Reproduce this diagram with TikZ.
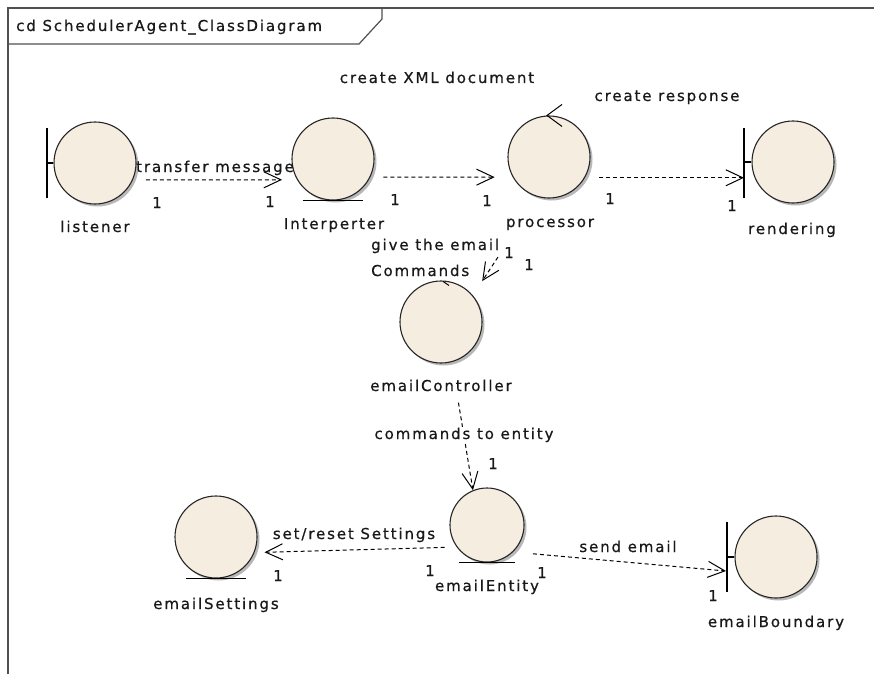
\documentclass[tikz,border=0pt]{standalone}
\usepackage{fontspec}
\setmainfont{DejaVu Sans}[LetterSpace=12.5, FakeBold=0.6]
\usetikzlibrary{arrows.meta,shadows}

\definecolor{objfill}{RGB}{246,237,225}
\definecolor{framegray}{RGB}{80,80,80}

\tikzset{
  obj/.style={circle, draw=black!85, line width=1.1pt, fill=objfill,
    minimum size=82pt, inner sep=0pt,
    drop shadow={shadow xshift=2.5pt, shadow yshift=-2.5pt, fill=black!28, opacity=1}},
  lbl/.style={font=\fontsize{15}{17}\selectfont, text=black!90, inner sep=1pt,
    text height=11pt, text depth=3pt},
  mult/.style={lbl},
  dep/.style={draw, line width=1pt, dash pattern=on 4pt off 3pt,
    -{Straight Barb[length=17pt,width=16pt,line width=1pt]}},
  symline/.style={line width=1.2pt},
  framebar/.style={framegray, line width=2pt},
}

\begin{document}
\begin{tikzpicture}[x=1pt,y=-1pt]
\useasboundingbox (0,0) rectangle (874,674);
\fill[white] (0,0) rectangle (874,674);

% diagram frame and title tab
\draw[framebar] (8,674) -- (8,8) -- (874,8);
\draw[framegray, line width=1.2pt] (8,44) -- (359,44) -- (382,19) -- (382,8);
\node[lbl, anchor=west] (title) at (15,27) {cd SchedulerAgent\_ClassDiagram};

% objects
\node[obj] (listener)  at (95,163)  {};
\node[obj] (interp)    at (333,159) {};
\node[obj] (proc)      at (549,157) {};
\node[obj] (render)    at (793,162) {};
\node[obj] (ctrl)      at (441,322) {};
\node[obj, minimum size=74pt] (entity) at (487,525) {};
\node[obj] (settings)  at (216,537) {};
\node[obj] (eboundary) at (776,557) {};

% boundary bars
\coordinate (listenerBarTop) at (47,128);
\coordinate (listenerBarBot) at (47,198);
\draw[symline] (listenerBarTop) -- (listenerBarBot);
\draw[symline] (listenerBarTop |- listener.west) -- (listener.west);

\coordinate (renderBarTop) at (744,128);
\coordinate (renderBarBot) at (744,198);
\draw[symline] (renderBarTop) -- (renderBarBot);
\draw[symline] (renderBarTop |- render.west) -- (render.west);

\coordinate (eboundBarTop) at (727,522);
\coordinate (eboundBarBot) at (727,592);
\draw[symline] (eboundBarTop) -- (eboundBarBot);
\draw[symline] (eboundBarTop |- eboundary.west) -- (eboundary.west);

% entity underlines
\draw[symline] ([xshift=-1pt]interp.south west |- interp.south) -- ([xshift=1pt]interp.south east |- interp.south);
\draw[symline] ([xshift=-1pt]entity.south west |- entity.south) -- ([xshift=1pt]entity.south east |- entity.south);
\draw[symline] ([xshift=-1pt]settings.south west |- settings.south) -- ([xshift=1pt]settings.south east |- settings.south);

% control arrows
\draw[line width=1pt] ([shift={(13,-11)}]proc.north) -- ([shift={(-2,0)}]proc.north) -- ([shift={(13,11)}]proc.north);
\draw[line width=1pt] ([shift={(2,1)}]ctrl.north) -- ([shift={(8,5)}]ctrl.north);

% names
\node[lbl] (listenerName) at (95,228)  {listener};
\node[lbl] (interpName)   at (334,225) {Interperter};
\node[lbl] (procName)     at (550,223) {processor};
\node[lbl] (renderName)   at (792,230) {rendering};
\node[lbl] (ctrlName)     at (441,387) {emailController};
\node[lbl] (entityName)   at (487,587) {emailEntity};
\node[lbl] (settingsName) at (216,605) {emailSettings};
\node[lbl] (boundName)    at (776,623) {emailBoundary};

% dependencies
\draw[dep, shorten <=13pt, shorten >=15pt] (listener.-24.5) -- (interp.210.8);
\draw[dep, shorten <=13pt, shorten >=18pt] (interp.-26) -- (proc.209.2);
\draw[dep, shorten <=14pt] (proc.-30.8) -- (proc.-30.8 -| renderBarTop);
\draw[dep, shorten <=72pt, shorten >=17pt] (proc.254) -- (ctrl.40);
\draw[dep, shorten <=41pt] (ctrl.-75) -- (entity.112);
\draw[dep, shorten <=12pt, shorten >=10pt] (entity.216.5) -- (settings.-22.4);
\coordinate (eboundPort) at (726,571);
\draw[dep, shorten <=20pt] (entity.-46.9) -- (eboundPort);

% connector labels
\node[lbl] (lblTransfer) at (215,168) {transfer message};
\node[lbl] (lblXml)      at (437,79)  {create XML document};
\node[lbl] (lblResponse) at (667,97)  {create response};
\node[lbl, anchor=west] (lblGiveA) at (370,246) {give the email};
\node[lbl, anchor=west] (lblGiveB) at (370,272) {Commands};
\node[lbl, fill=white] (lblCommands) at (464,435) {commands to entity};
\node[lbl] (lblSettings) at (354,535) {set/reset Settings};
\node[lbl, fill=white, inner sep=0.5pt] (lblSend) at (628,548) {send email};

% multiplicities
\node[mult] (m1)  at (157,204) {1};
\node[mult] (m2)  at (270,203) {1};
\node[mult] (m3)  at (395,201) {1};
\node[mult] (m4)  at (487,202) {1};
\node[mult] (m5)  at (610,200) {1};
\node[mult] (m6)  at (732,207) {1};
\node[mult] (m7)  at (509,254) {1};
\node[mult] (m8)  at (529,266) {1};
\node[mult] (m9)  at (493,465) {1};
\node[mult] (m10) at (430,572) {1};
\node[mult] (m11) at (542,574) {1};
\node[mult] (m12) at (278,577) {1};
\node[mult] (m13) at (713,597) {1};
\end{tikzpicture}
\end{document}
